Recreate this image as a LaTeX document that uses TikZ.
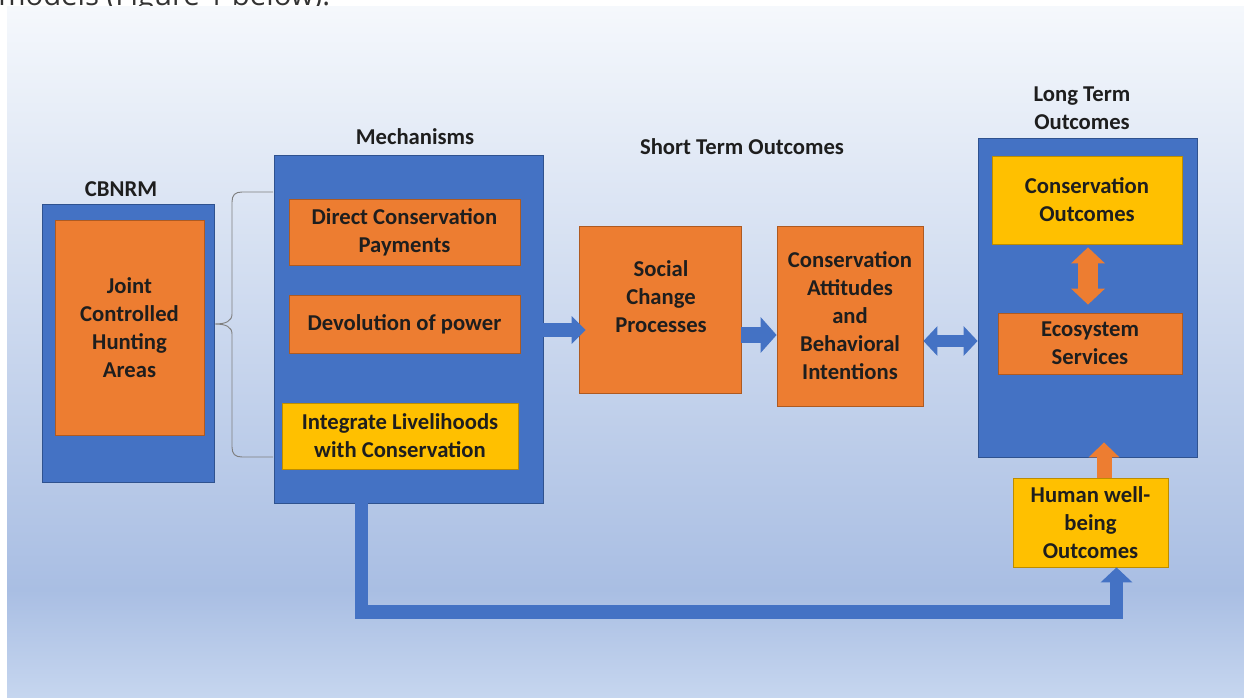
\documentclass[tikz,border=0pt]{standalone}
\usepackage{fontspec}
\setmainfont{Carlito}
\newfontfamily\topfont{Open Sans}
\usetikzlibrary{arrows.meta,calc}
\definecolor{obl}{HTML}{4472C4}
\definecolor{oblb}{HTML}{2F528F}
\definecolor{oor}{HTML}{ED7D31}
\definecolor{oorb}{HTML}{AE5A21}
\definecolor{oye}{HTML}{FFC000}
\definecolor{oyeb}{HTML}{BC8C00}
\definecolor{txt}{HTML}{1E1E1E}
\definecolor{bgtop}{HTML}{F5F8FC}
\definecolor{bgmid}{HTML}{A9BEE3}
\definecolor{bgbot}{HTML}{C6D6EF}
\definecolor{brc}{HTML}{7F7F7F}
\begin{document}
\begin{tikzpicture}[x=0.75pt,y=-0.75pt,
  wh/.style 2 args={minimum width=#1, minimum height=#2},
  boxbase/.style={rectangle, inner sep=0pt, line width=0.6pt, text=txt,
    font=\fontsize{17}{21}\selectfont\bfseries, align=center},
  bluebox/.style={boxbase, fill=obl, draw=oblb},
  orbox/.style={boxbase, fill=oor, draw=oorb},
  yebox/.style={boxbase, fill=oye, draw=oyeb},
  boxtext/.style={inner sep=0pt, text=txt, font=\fontsize{17}{21}\selectfont\bfseries, align=center},
  heading/.style={inner sep=0pt, text=txt, font=\fontsize{17}{21}\selectfont\bfseries, align=center},
  barrow/.style={draw=obl, line join=miter},
  oarrow/.style={draw=oor, line join=miter}]
\useasboundingbox (0,0) rectangle (1244,698);
\clip (0,0) rectangle (1244,698);
% cut-off sentence at the top
\node[anchor=base west, inner sep=0pt, text={black!80}, font=\topfont\fontsize{22}{26}\selectfont] (toptxt) at (-2,5.5) {models (Figure 1 below).};
% background
\shade[top color=bgtop, bottom color=bgmid] (7,7) rectangle (1244,590);
\shade[top color=bgmid, bottom color=bgbot] (7,589.5) rectangle (1244,698);
% headings
\node[heading] (hcb) at (121,189) {CBNRM};
\node[heading] (hmech) at (415,137) {Mechanisms};
\node[heading] (hshort) at (742,147) {Short Term Outcomes};
\node[heading] (hlong) at (1082,108) {Long Term\\Outcomes};
% CBNRM
\node[bluebox, wh={129pt}{208.5pt}] (cbnrm) at (128,343) {};
\node[orbox, wh={111.75pt}{161.25pt}] (jcha) at (129.5,327.5) {Joint\\Controlled\\Hunting\\Areas};
% brace
\draw[brc, line width=0.7pt] (273,192) -- (242,192) .. controls (235,192) and (232,195) .. (232,202)
  -- (232,314) .. controls (232,321) and (226,324) .. (215,324)
  .. controls (226,324) and (232,327) .. (232,334)
  -- (232,447) .. controls (232,454) and (235,457) .. (242,457) -- (273,457);
% Mechanisms
\node[bluebox, wh={201.75pt}{261pt}] (mech) at (408.5,329) {};
\node[orbox, wh={173.25pt}{49.5pt}] (dcp) at (404.5,232) {Direct Conservation\\Payments};
\node[orbox, wh={173.25pt}{43.5pt}] (dev) at (404.5,324) {Devolution of power};
\node[yebox, wh={177pt}{49.5pt}] (intl) at (400,436) {Integrate Livelihoods\\with Conservation};
% short term
\node[orbox, wh={121.5pt}{125.25pt}] (social) at (660,309.5) {};
\node[boxtext] (socialtxt) at (661,296.5) {Social\\Change\\Processes};
\node[orbox, wh={109.5pt}{135pt}] (att) at (850,316) {Conservation\\Attitudes\\and\\Behavioral\\Intentions};
% long term
\node[bluebox, wh={164.25pt}{239.25pt}] (long) at (1087.5,297.5) {};
\node[yebox, wh={142.5pt}{66pt}] (consout) at (1087,200) {Conservation\\Outcomes};
\node[orbox, wh={138pt}{45.75pt}] (eco) at (1090,343.5) {Ecosystem\\Services};
\node[yebox, wh={116.25pt}{66.75pt}] (human) at (1090.5,522.5) {Human well-\\being\\Outcomes};
% helper coordinates
\coordinate (y1) at (0,330);
\coordinate (y2) at (0,335);
\coordinate (y3) at (0,341);
\coordinate (x4) at (1088,0);
\coordinate (x5) at (1104,0);
\coordinate (x6a) at (361.5,0);
\coordinate (x6b) at (1116.5,0);
\coordinate (y6) at (0,612);
% arrows
\draw[barrow, line width=10.5pt, -{Triangle[length=10.5pt,width=20.25pt]}]
  (mech.east |- y1) -- ([xshift=5.25pt]social.west |- y1);
\draw[barrow, line width=12pt, -{Triangle[length=12pt,width=26.25pt]}]
  (social.east |- y2) -- (att.west |- y2);
\draw[barrow, line width=9pt, {Triangle[length=10.5pt,width=21.75pt]}-{Triangle[length=10.5pt,width=21.75pt]}]
  (att.east |- y3) -- (long.west |- y3);
\draw[oarrow, line width=15pt, {Triangle[length=12pt,width=24.75pt]}-{Triangle[length=12pt,width=24.75pt]}]
  ([yshift=-2.25pt]consout.south -| x4) -- ([yshift=6pt]eco.north -| x4);
\draw[oarrow, line width=11.25pt, -{Triangle[length=11.25pt,width=22.5pt]}]
  (human.north -| x5) -- ([yshift=11.25pt]long.south -| x5);
\draw[barrow, line width=10pt, -{Triangle[length=11.25pt,width=23.25pt]}]
  (mech.south -| x6a) -- (x6a |- y6) -- (x6b |- y6) -- (human.south -| x6b);
\end{tikzpicture}
\end{document}
